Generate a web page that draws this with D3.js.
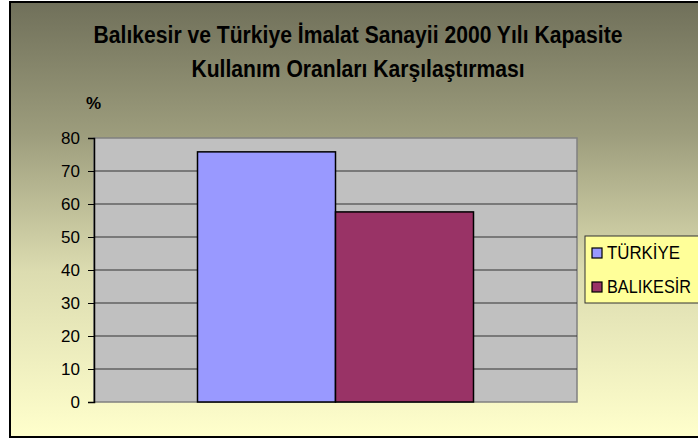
<!DOCTYPE html>
<html lang="tr">
<head>
<meta charset="UTF-8" />
<title>Kapasite Kullanım Oranları</title>
<style>
  html, body { margin: 0; padding: 0; background: #fff; }
  svg { display: block; font-family: "Liberation Sans", Arial, sans-serif; }
</style>
</head>
<body>
<svg width="698" height="441"></svg>
<script src="https://d3js.org/d3.v7.min.js"></script>
<script>
  const categories = ['TÜRKİYE', 'BALIKESİR'];
  const values = [75.8, 57.6];
  const colors = ['#9999ff', '#993366'];
  const yTicks = [0, 10, 20, 30, 40, 50, 60, 70, 80];
  const titleLines = ['Balıkesir ve Türkiye İmalat Sanayii 2000 Yılı Kapasite', 'Kullanım Oranları Karşılaştırması'];
  const legendWidths = [73, 84];

  const svg = d3.select('svg');

  // background gradient
  const grad = svg.append('defs').append('linearGradient')
    .attr('id', 'bg').attr('x1', 0).attr('y1', 0).attr('x2', 0).attr('y2', 1);
  [[0, '#70705a'], [0.3, '#9c9c7c'], [0.62, '#dcdcb0'], [1, '#ffffcc']].forEach(([o, c]) =>
    grad.append('stop').attr('offset', o).attr('stop-color', c));

  svg.append('rect').attr('x', 10).attr('y', 2).attr('width', 700).attr('height', 435)
    .attr('fill', 'url(#bg)').attr('stroke', '#000').attr('stroke-width', 2);

  const plot = { left: 94, right: 577, top: 138, bottom: 402 };

  // one category group, two series side by side (Excel gap width ~75%)
  const x = d3.scaleBand().domain(['g']).range([plot.left, plot.right]).paddingInner(0).paddingOuter(0.375);
  const xs = d3.scaleBand().domain(categories).range([0, x.bandwidth()]);
  const y = d3.scaleLinear().domain([0, 80]).range([plot.bottom, plot.top]);

  svg.append('rect')
    .attr('x', plot.left).attr('y', plot.top)
    .attr('width', plot.right - plot.left).attr('height', plot.bottom - plot.top)
    .attr('fill', '#c0c0c0').attr('stroke', '#808080').attr('stroke-width', 1.5);

  // gridlines
  svg.append('g').selectAll('line')
    .data(yTicks.filter(t => t > 0 && t < 80))
    .join('line')
    .attr('x1', plot.left).attr('x2', plot.right)
    .attr('y1', d => y(d)).attr('y2', d => y(d))
    .attr('stroke', '#333').attr('stroke-width', 1);

  // bars
  svg.append('g').selectAll('rect')
    .data(categories)
    .join('rect')
    .attr('x', d => x('g') + xs(d))
    .attr('y', (d, i) => y(values[i]))
    .attr('width', xs.bandwidth())
    .attr('height', (d, i) => y(0) - y(values[i]))
    .attr('fill', (d, i) => colors[i])
    .attr('stroke', '#000').attr('stroke-width', 1.5);

  // y axis
  const yAxis = svg.append('g')
    .attr('transform', `translate(${plot.left},0)`)
    .call(d3.axisLeft(y).tickValues(yTicks).tickSize(6).tickPadding(8));
  yAxis.select('.domain').attr('stroke', '#000').attr('stroke-width', 1.5);
  yAxis.selectAll('.tick line').attr('stroke', '#000');
  yAxis.selectAll('.tick text').attr('font-size', 17).attr('fill', '#000')
    .attr('font-family', 'inherit');

  // title, squeezed horizontally like the narrow original face
  svg.append('g')
    .attr('transform', 'translate(358,0) scale(0.88,1)')
    .selectAll('text')
    .data(titleLines)
    .join('text')
    .attr('x', 0).attr('y', (d, i) => 43 + i * 34)
    .attr('text-anchor', 'middle')
    .attr('font-size', 24).attr('font-weight', 'bold').attr('fill', '#000')
    .text(d => d);

  svg.append('text').attr('x', 86).attr('y', 109)
    .attr('font-size', 17).attr('font-weight', 'bold').text('%');

  // legend
  const lg = svg.append('g');
  lg.append('rect').attr('x', 585).attr('y', 236).attr('width', 130).attr('height', 67)
    .attr('fill', '#ffff99').attr('stroke', '#333').attr('stroke-width', 1);
  categories.forEach((c, i) => {
    const base = 259 + i * 34;
    lg.append('rect').attr('x', 592).attr('y', base - 11).attr('width', 10).attr('height', 10)
      .attr('fill', colors[i]).attr('stroke', '#000').attr('stroke-width', 1.2);
    lg.append('text').attr('x', 607).attr('y', base)
      .attr('font-size', 18)
      .attr('textLength', legendWidths[i]).attr('lengthAdjust', 'spacingAndGlyphs')
      .text(c);
  });
</script>
</body>
</html>
